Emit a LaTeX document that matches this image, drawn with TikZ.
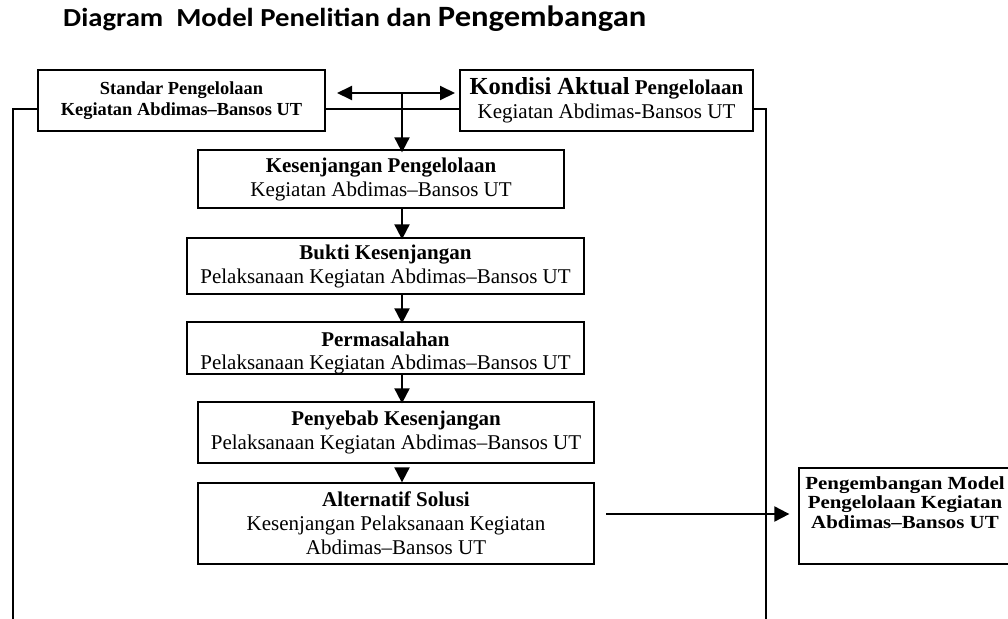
\documentclass[tikz,border=0pt]{standalone}
\usepackage{fontspec}
\setmainfont{Liberation Serif}
\newfontfamily\titlefont{Carlito}
\usetikzlibrary{arrows.meta}
\tikzset{
  box/.style={draw=black, line width=1.3pt, rectangle, inner sep=0pt, align=center,
    font=\fontsize{21}{24}\selectfont},
  conn/.style={line width=2pt},
  arr/.style={line width=2pt, -{Triangle[length=15pt,width=15pt]}},
  darr/.style={line width=2pt, {Triangle[length=15pt,width=14pt]}-{Triangle[length=15pt,width=14pt]}},
}
\begin{document}
\begin{tikzpicture}[x=1pt,y=-1pt]
\useasboundingbox (0,0) rectangle (1008,618);
\clip (0,0) rectangle (1008,618);
% title
\node[anchor=base west, inner sep=0pt] (title) at (63,27)
  {\titlefont\bfseries\scalebox{1.105}[1]{\fontsize{26}{30}\selectfont Diagram\ \ Model Penelitian dan {\fontsize{29.5}{30}\selectfont Pengembangan}}};
% boxes
\node[box, minimum width=287pt, minimum height=61pt, font=\fontsize{18.4}{21}\selectfont\bfseries] (b1) at (181.5,100.5)
  {Standar Pengelolaan\\Kegiatan Abdimas--Bansos UT};
\node[box, minimum width=293pt, minimum height=61pt] (b2) at (606.5,100.5)
  {{\fontsize{24.5}{28}\selectfont\bfseries Kondisi Aktual} {\bfseries Pengelolaan}\\Kegiatan Abdimas-Bansos UT};
\node[box, minimum width=366pt, minimum height=58pt] (b3) at (381,179)
  {\textbf{Kesenjangan Pengelolaan}\\Kegiatan Abdimas--Bansos UT};
\node[box, minimum width=397pt, minimum height=56pt] (b4) at (385.5,266)
  {\textbf{Bukti Kesenjangan}\\Pelaksanaan Kegiatan Abdimas--Bansos UT};
\node[box, minimum width=397pt, minimum height=52pt] (b5) at (385.5,348) {};
\begin{scope}
  \clip (b5.south west) rectangle (b5.north east);
  \node[anchor=base, inner sep=0pt, align=center, font=\fontsize{21}{23}\selectfont] (t5) at (385.5,369.5)
    {\textbf{Permasalahan}\\Pelaksanaan Kegiatan Abdimas--Bansos UT};
\end{scope}
\draw[line width=1.3pt] (b5.south west) rectangle (b5.north east);
\node[box, minimum width=396pt, minimum height=61pt] (b6) at (396,432.5)
  {\textbf{Penyebab Kesenjangan}\\Pelaksanaan Kegiatan Abdimas--Bansos UT};
\node[box, minimum width=396pt, minimum height=81pt] (b7) at (396,523.5)
  {\textbf{Alternatif Solusi}\\Kesenjangan Pelaksanaan Kegiatan\\Abdimas--Bansos UT};
\node[box, minimum width=240pt, minimum height=96pt] (b8) at (919,516) {};
\node[anchor=base, inner sep=0pt, align=center, font=\fontsize{18.5}{19.5}\selectfont\bfseries] (t8) at (905,528)
  {\scalebox{1.13}[1]{Pengembangan Model}\\\scalebox{1.13}[1]{Pengelolaan Kegiatan}\\\scalebox{1.13}[1]{Abdimas--Bansos UT}};
% coordinates
\coordinate (dl) at (337,93);
\coordinate (dr) at (455,93);
\coordinate (dm) at (402,93);
\coordinate (hy) at (0,109);
\coordinate (L) at (13,109);
\coordinate (Lb) at (13,640);
\coordinate (R) at (766,109);
\coordinate (Rb) at (766,640);
\coordinate (a7) at (606,514);
% connectors
\draw[darr] (dl) -- (dr);
\draw[arr] (dm) -- ([yshift=-3pt]dm |- b3.north);
\draw[conn] (b1.east |- hy) -- (b2.west |- hy);
\draw[conn] (b1.west |- hy) -- (L) -- (Lb);
\draw[conn] (b2.east |- hy) -- (R) -- (Rb);
\draw[arr] (dm |- b3.south) -- ([yshift=-2pt]dm |- b4.north);
\draw[arr] (dm |- b4.south) -- ([yshift=-2pt]dm |- b5.north);
\draw[arr] (dm |- b5.south) -- ([yshift=-2pt]dm |- b6.north);
\draw[arr] ([yshift=-8pt]dm |- b6.south) -- (dm |- b7.north);
\draw[arr] (a7) -- ([xshift=-9pt]a7 -| b8.west);
\end{tikzpicture}
\end{document}
